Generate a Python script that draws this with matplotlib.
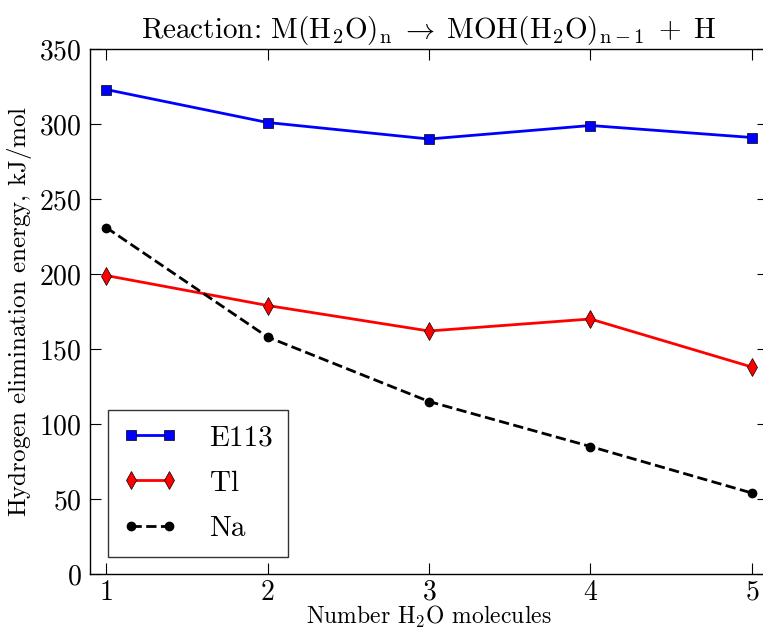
import matplotlib
matplotlib.use("Agg")
import matplotlib.pyplot as plt

plt.rcParams['font.family'] = 'serif'
plt.rcParams['font.serif'] = ['cmr10']
plt.rcParams['mathtext.fontset'] = 'cm'
plt.rcParams['axes.formatter.use_mathtext'] = True
plt.rcParams['axes.unicode_minus'] = False

n_water = [1, 2, 3, 4, 5]
e113 = [323, 301, 290, 299, 291]
tl = [199, 179, 162, 170, 138]
na = [231, 158, 115, 85, 54]

fig = plt.figure(figsize=(7.63, 6.31), dpi=100)
ax = fig.add_axes([90 / 763, 57 / 631, 678 / 763, 525 / 631])

ax.plot(n_water, e113, '-s', color='blue', lw=2, ms=7, mec='black', mew=0.5, label='E113')
ax.plot(n_water, tl, '-d', color='red', lw=2, ms=9, mec='black', mew=0.5, label='Tl')
ax.plot(n_water, na, '--o', color='black', lw=2, ms=6, label='Na')

ax.set_xlim(0.9, 5.1)
ax.set_ylim(0, 350)
ax.set_xticks(n_water)
ax.tick_params(direction='in', top=True, right=True, labelsize=20, length=8, pad=6)
ax.tick_params(axis='x', pad=4)
for s in ax.spines.values():
    s.set_linewidth(1.0)

ax.set_xlabel(r'Number $\mathrm{H_2O}$ molecules', fontsize=17)
ax.xaxis.set_label_coords(0.5, -0.056)
ax.set_ylabel(r'Hydrogen elimination energy, $\mathrm{kJ/mol}$', fontsize=18, labelpad=4)
ax.set_title(r'Reaction: $\mathrm{M(H_2O)_n}\;\rightarrow\;\mathrm{MOH(H_2O)_{n-1}}\;+\;\mathrm{H}$',
             fontsize=21, pad=8)

leg = ax.legend(loc='lower left', fontsize=21, frameon=True, fancybox=False,
                edgecolor='black', borderpad=0.5, numpoints=2, handlelength=1.9,
                handletextpad=1.1, labelspacing=0.65, borderaxespad=0.6)
leg.get_frame().set_linewidth(1.0)

fig.savefig('out.png', dpi=100, facecolor='white')
